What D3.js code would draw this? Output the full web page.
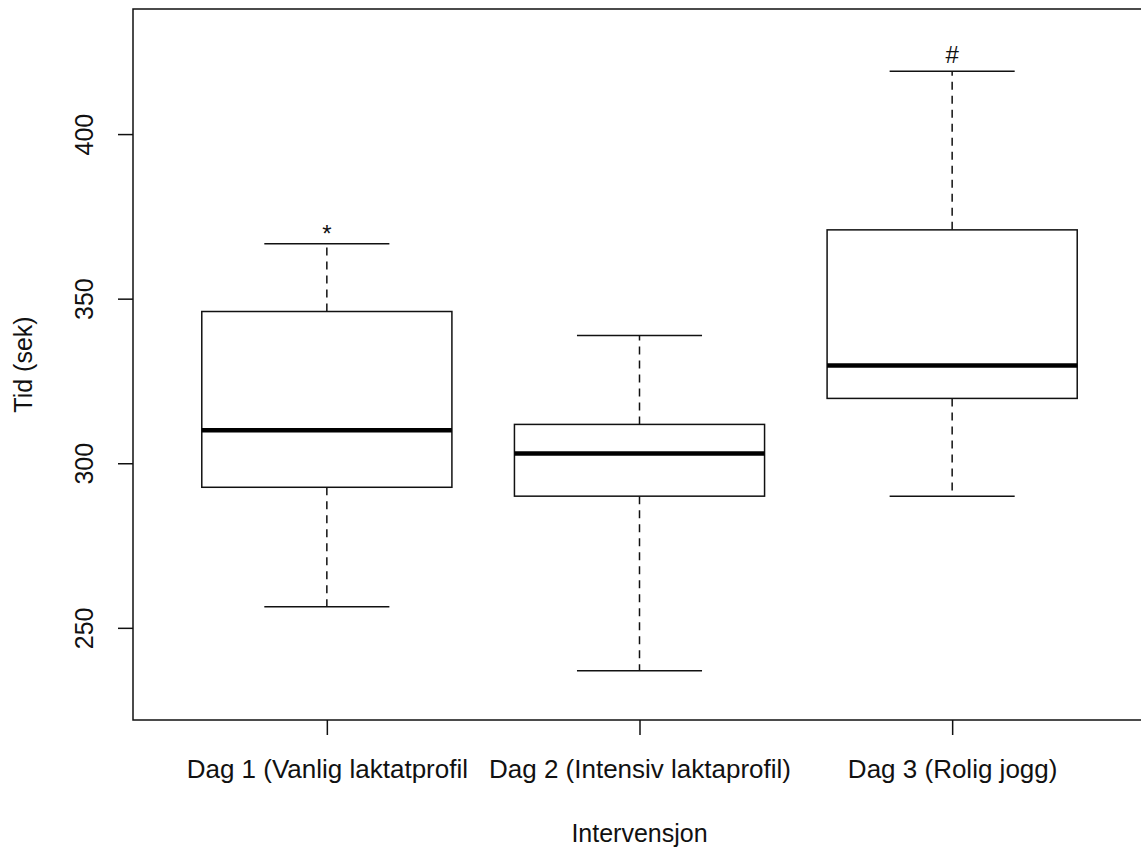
<!DOCTYPE html>
<html>
<head>
<meta charset="utf-8">
<script src="https://cdn.jsdelivr.net/npm/d3@7"></script>
<style>
  body { margin: 0; background: #fff; }
  text { font-family: "Liberation Sans", Arial, sans-serif; fill: #111; }
</style>
</head>
<body>
<svg id="chart" width="1141" height="848"></svg>
<script>
// five-number summaries
let groups = ["Dag 1 (Vanlig laktatprofil", "Dag 2 (Intensiv laktaprofil)", "Dag 3 (Rolig jogg)"],
    lowWhisker = [256.4, 237, 290],
    q1 = [292.7, 290, 319.7],
    median = [310, 303, 329.7],
    q3 = [346.1, 311.8, 370.9],
    highWhisker = [366.7, 338.8, 419.1];

let yTicks = [250, 300, 350, 400];

// significance marks above the whiskers
let markGroup = [0, 2],
    markLabel = ["*", "#"],
    markValue = [367.3, 421.5];

let svg = d3.select("#chart");

let x = d3.scaleLinear().domain([0.38, 3.62]).range([133, 1146]),
    y = d3.scaleLinear().domain([222, 438]).range([720, 9]);

let boxW = 0.8, capW = 0.4;

// frame
svg.append("rect")
    .attr("x", x(0.38)).attr("y", y(438))
    .attr("width", x(3.62) - x(0.38)).attr("height", y(222) - y(438))
    .attr("fill", "none").attr("stroke", "#111").attr("stroke-width", 1.5);

// y axis
let yAxis = svg.append("g")
    .attr("transform", "translate(133,0)")
    .call(d3.axisLeft(y).tickValues(yTicks).tickSize(15).tickFormat(d3.format("d")));
yAxis.select(".domain").remove();
yAxis.selectAll(".tick line").attr("stroke", "#111").attr("stroke-width", 1.5);
yAxis.selectAll(".tick text")
    .attr("x", null).attr("y", null).attr("dy", 0)
    .attr("text-anchor", "middle")
    .attr("transform", "translate(-40,0) rotate(-90)")
    .style("font-size", "25px");

// x axis (only tick marks and labels)
let xAxis = svg.append("g")
    .attr("transform", "translate(0,720)")
    .call(d3.axisBottom(x).tickValues([1, 2, 3]).tickSize(15).tickFormat((d, i) => groups[i]));
xAxis.select(".domain").remove();
xAxis.selectAll(".tick line").attr("stroke", "#111").attr("stroke-width", 1.5);
xAxis.selectAll(".tick text")
    .attr("y", 58).attr("dy", 0)
    .style("font-size", "26px");

// axis titles
svg.append("text")
    .attr("x", x(2)).attr("y", 842)
    .attr("text-anchor", "middle")
    .style("font-size", "25px")
    .text("Intervensjon");

svg.append("text")
    .attr("transform", "translate(32," + ((y(222) + y(438)) / 2) + ") rotate(-90)")
    .attr("text-anchor", "middle")
    .style("font-size", "25px")
    .text("Tid (sek)");

// boxes
let box = svg.selectAll(".box")
  .data(groups)
  .enter().append("g")
    .attr("class", "box");

box.append("line") // upper whisker
    .attr("x1", (d, i) => x(i + 1)).attr("x2", (d, i) => x(i + 1))
    .attr("y1", (d, i) => y(q3[i])).attr("y2", (d, i) => y(highWhisker[i]))
    .attr("stroke", "#111").attr("stroke-width", 1.5).attr("stroke-dasharray", "8,6");

box.append("line") // lower whisker
    .attr("x1", (d, i) => x(i + 1)).attr("x2", (d, i) => x(i + 1))
    .attr("y1", (d, i) => y(q1[i])).attr("y2", (d, i) => y(lowWhisker[i]))
    .attr("stroke", "#111").attr("stroke-width", 1.5).attr("stroke-dasharray", "8,6");

box.append("line") // upper staple
    .attr("x1", (d, i) => x(i + 1 - capW / 2)).attr("x2", (d, i) => x(i + 1 + capW / 2))
    .attr("y1", (d, i) => y(highWhisker[i])).attr("y2", (d, i) => y(highWhisker[i]))
    .attr("stroke", "#111").attr("stroke-width", 1.5);

box.append("line") // lower staple
    .attr("x1", (d, i) => x(i + 1 - capW / 2)).attr("x2", (d, i) => x(i + 1 + capW / 2))
    .attr("y1", (d, i) => y(lowWhisker[i])).attr("y2", (d, i) => y(lowWhisker[i]))
    .attr("stroke", "#111").attr("stroke-width", 1.5);

box.append("rect")
    .attr("x", (d, i) => x(i + 1 - boxW / 2))
    .attr("width", (d, i) => x(i + 1 + boxW / 2) - x(i + 1 - boxW / 2))
    .attr("y", (d, i) => y(q3[i]))
    .attr("height", (d, i) => y(q1[i]) - y(q3[i]))
    .attr("fill", "#fff").attr("stroke", "#111").attr("stroke-width", 1.5);

box.append("line") // median
    .attr("x1", (d, i) => x(i + 1 - boxW / 2)).attr("x2", (d, i) => x(i + 1 + boxW / 2))
    .attr("y1", (d, i) => y(median[i])).attr("y2", (d, i) => y(median[i]))
    .attr("stroke", "#000").attr("stroke-width", 4.5);

// significance marks
svg.selectAll(".mark")
  .data(markLabel)
  .enter().append("text")
    .attr("class", "mark")
    .attr("x", (d, i) => x(markGroup[i] + 1))
    .attr("y", (d, i) => y(markValue[i]))
    .attr("text-anchor", "middle")
    .style("font-size", "24px")
    .text(d => d);
</script>
</body>
</html>
